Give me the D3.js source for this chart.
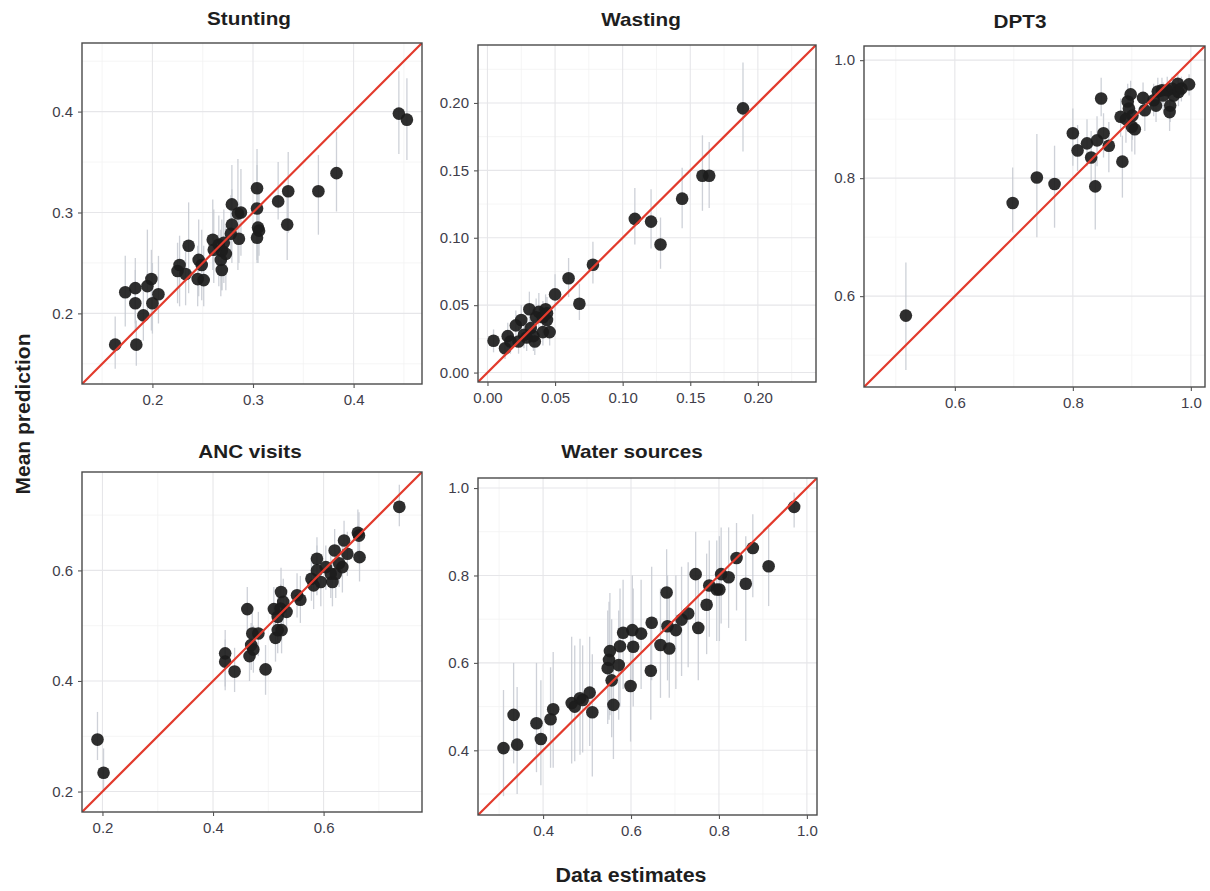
<!DOCTYPE html>
<html>
<head>
<meta charset="utf-8">
<script src="https://cdn.jsdelivr.net/npm/d3@7"></script>
<style>
  body { margin: 0; background: #fff; }
  svg { display: block; }
  text { font-family: "Liberation Sans", Arial, sans-serif; }
</style>
</head>
<body>
<svg id="chart" width="1210" height="891"></svg>
<script>
// ---- DATA: each row = [data estimate, mean prediction, lower, upper] ----
const panelTitles = ["Stunting", "Wasting", "DPT3", "ANC visits", "Water sources"];

const stunting = [
  [0.163,0.169,0.145,0.197],[0.184,0.169,0.148,0.193],[0.173,0.221,0.187,0.257],
  [0.183,0.225,0.190,0.255],[0.183,0.210,0.183,0.243],[0.191,0.198,0.173,0.223],
  [0.195,0.227,0.200,0.283],[0.199,0.234,0.183,0.263],[0.200,0.210,0.180,0.250],
  [0.206,0.219,0.190,0.257],[0.227,0.248,0.207,0.277],[0.225,0.242,0.210,0.270],
  [0.233,0.239,0.208,0.267],[0.236,0.267,0.220,0.310],[0.246,0.253,0.217,0.293],
  [0.249,0.248,0.213,0.283],[0.245,0.234,0.207,0.267],[0.251,0.233,0.207,0.267],
  [0.260,0.273,0.243,0.313],[0.261,0.263,0.230,0.303],[0.266,0.268,0.227,0.297],
  [0.269,0.262,0.223,0.293],[0.271,0.270,0.230,0.303],[0.268,0.253,0.217,0.283],
  [0.269,0.243,0.223,0.277],[0.273,0.259,0.223,0.287],[0.279,0.308,0.277,0.347],
  [0.279,0.288,0.250,0.323],[0.278,0.279,0.257,0.317],[0.285,0.299,0.243,0.353],
  [0.288,0.300,0.257,0.343],[0.286,0.274,0.250,0.310],[0.304,0.324,0.277,0.363],
  [0.304,0.304,0.253,0.347],[0.305,0.285,0.250,0.330],[0.304,0.275,0.250,0.317],
  [0.306,0.282,0.257,0.323],[0.325,0.311,0.293,0.350],[0.335,0.321,0.280,0.360],
  [0.334,0.288,0.253,0.327],[0.365,0.321,0.278,0.357],[0.383,0.339,0.301,0.380],
  [0.445,0.398,0.358,0.440],[0.453,0.392,0.352,0.433]
];

const wasting = [
  [0.0045,0.0236,0.015,0.032],[0.013,0.018,0.010,0.027],[0.015,0.027,0.018,0.037],
  [0.017,0.023,0.014,0.033],[0.021,0.035,0.024,0.046],[0.023,0.023,0.014,0.034],
  [0.025,0.039,0.028,0.050],[0.027,0.028,0.018,0.040],[0.029,0.026,0.016,0.038],
  [0.031,0.047,0.035,0.060],[0.032,0.033,0.022,0.045],[0.034,0.027,0.016,0.039],
  [0.035,0.023,0.013,0.034],[0.036,0.041,0.029,0.055],[0.038,0.045,0.033,0.059],
  [0.041,0.041,0.029,0.053],[0.043,0.047,0.035,0.058],[0.044,0.039,0.028,0.051],
  [0.041,0.030,0.020,0.041],[0.044,0.044,0.032,0.056],[0.046,0.030,0.020,0.041],
  [0.050,0.058,0.046,0.073],[0.060,0.070,0.056,0.085],[0.068,0.051,0.039,0.066],
  [0.078,0.080,0.066,0.097],[0.109,0.114,0.095,0.137],[0.121,0.112,0.092,0.136],
  [0.128,0.095,0.077,0.115],[0.144,0.129,0.107,0.152],[0.159,0.146,0.120,0.176],
  [0.164,0.146,0.122,0.171],[0.189,0.196,0.164,0.230]
];

const dpt3 = [
  [0.517,0.567,0.475,0.657],[0.698,0.758,0.708,0.818],[0.739,0.801,0.700,0.875],
  [0.769,0.790,0.716,0.855],[0.800,0.876,0.821,0.918],[0.808,0.847,0.812,0.890],
  [0.824,0.859,0.820,0.900],[0.831,0.835,0.790,0.880],[0.838,0.786,0.713,0.838],
  [0.841,0.864,0.820,0.905],[0.848,0.935,0.905,0.970],[0.852,0.876,0.835,0.910],
  [0.861,0.855,0.810,0.895],[0.884,0.828,0.767,0.872],[0.881,0.904,0.870,0.935],
  [0.890,0.900,0.860,0.935],[0.893,0.930,0.895,0.960],[0.898,0.942,0.910,0.965],
  [0.895,0.918,0.880,0.950],[0.900,0.887,0.845,0.925],[0.905,0.883,0.840,0.920],
  [0.901,0.906,0.865,0.940],[0.919,0.936,0.905,0.962],[0.922,0.915,0.880,0.945],
  [0.937,0.932,0.905,0.960],[0.941,0.923,0.895,0.950],[0.944,0.947,0.920,0.970],
  [0.951,0.949,0.925,0.970],[0.960,0.949,0.925,0.972],[0.965,0.923,0.895,0.948],
  [0.964,0.912,0.880,0.940],[0.968,0.952,0.930,0.972],[0.971,0.940,0.915,0.962],
  [0.978,0.960,0.940,0.978],[0.979,0.946,0.922,0.968],[0.984,0.952,0.930,0.972],
  [0.997,0.959,0.940,0.976],[0.953,0.940,0.915,0.962]
];

const ancVisits = [
  [0.191,0.294,0.257,0.344],[0.202,0.234,0.200,0.278],[0.422,0.450,0.383,0.492],
  [0.422,0.435,0.390,0.475],[0.439,0.417,0.380,0.460],[0.462,0.530,0.490,0.570],
  [0.466,0.445,0.400,0.485],[0.469,0.465,0.420,0.505],[0.473,0.457,0.415,0.500],
  [0.471,0.486,0.445,0.525],[0.482,0.486,0.445,0.525],[0.495,0.421,0.375,0.465],
  [0.510,0.530,0.490,0.570],[0.513,0.478,0.435,0.520],[0.517,0.516,0.475,0.555],
  [0.522,0.531,0.490,0.575],[0.524,0.492,0.450,0.535],[0.517,0.492,0.450,0.535],
  [0.523,0.561,0.520,0.605],[0.527,0.543,0.500,0.585],[0.533,0.525,0.485,0.565],
  [0.552,0.555,0.515,0.595],[0.558,0.547,0.505,0.590],[0.578,0.585,0.545,0.625],
  [0.582,0.573,0.530,0.615],[0.588,0.621,0.575,0.660],[0.588,0.600,0.555,0.645],
  [0.595,0.579,0.535,0.620],[0.604,0.606,0.565,0.645],[0.613,0.594,0.550,0.635],
  [0.616,0.579,0.535,0.620],[0.620,0.636,0.595,0.675],[0.622,0.594,0.550,0.635],
  [0.628,0.613,0.570,0.655],[0.634,0.606,0.560,0.650],[0.637,0.654,0.610,0.690],
  [0.643,0.630,0.590,0.670],[0.662,0.668,0.625,0.710],[0.664,0.663,0.620,0.705],
  [0.665,0.624,0.580,0.665],[0.737,0.715,0.680,0.755]
];

const waterSources = [
  [0.310,0.405,0.295,0.538],[0.333,0.481,0.370,0.600],[0.341,0.413,0.300,0.545],
  [0.385,0.462,0.350,0.600],[0.395,0.426,0.320,0.560],[0.417,0.471,0.360,0.590],
  [0.423,0.494,0.360,0.625],[0.465,0.508,0.370,0.660],[0.472,0.500,0.375,0.640],
  [0.484,0.519,0.390,0.655],[0.490,0.515,0.395,0.640],[0.506,0.532,0.410,0.660],
  [0.512,0.487,0.340,0.620],[0.547,0.588,0.460,0.720],[0.552,0.627,0.480,0.760],
  [0.550,0.607,0.470,0.740],[0.556,0.560,0.430,0.700],[0.560,0.504,0.380,0.630],
  [0.572,0.595,0.470,0.720],[0.575,0.638,0.500,0.770],[0.582,0.669,0.540,0.790],
  [0.599,0.547,0.420,0.680],[0.605,0.637,0.500,0.770],[0.603,0.675,0.550,0.800],
  [0.623,0.667,0.540,0.790],[0.645,0.582,0.470,0.700],[0.647,0.692,0.560,0.820],
  [0.667,0.641,0.520,0.770],[0.681,0.761,0.630,0.860],[0.683,0.684,0.560,0.800],
  [0.687,0.633,0.520,0.760],[0.702,0.675,0.540,0.800],[0.715,0.699,0.570,0.820],
  [0.730,0.713,0.590,0.830],[0.747,0.803,0.680,0.900],[0.753,0.680,0.560,0.800],
  [0.772,0.733,0.620,0.850],[0.778,0.777,0.660,0.880],[0.795,0.768,0.650,0.880],
  [0.801,0.768,0.650,0.890],[0.805,0.803,0.690,0.910],[0.822,0.796,0.680,0.910],
  [0.840,0.840,0.720,0.920],[0.861,0.781,0.650,0.890],[0.877,0.863,0.750,0.940],
  [0.913,0.821,0.730,0.910],[0.971,0.957,0.910,0.990]
];

// axis limits (same for x and y in each panel) and tick labels
const panelDomains = [[0.130, 0.468], [-0.007, 0.243], [0.446, 1.024], [0.163, 0.778], [0.252, 1.023]];
const panelTicks = [
  [0.2, 0.3, 0.4],
  [0.00, 0.05, 0.10, 0.15, 0.20],
  [0.6, 0.8, 1.0],
  [0.2, 0.4, 0.6],
  [0.4, 0.6, 0.8, 1.0]
];
const tickFormats = [".1f", ".2f", ".1f", ".1f", ".1f"];
const panelData = [stunting, wasting, dpt3, ancVisits, waterSources];
const xAxisTitle = "Data estimates";
const yAxisTitle = "Mean prediction";

// ---- LAYOUT ----
const layout = [
  { left: 82,  top: 43,  w: 340, h: 341, tx: 249, ty: 25 },
  { left: 478, top: 45,  w: 338, h: 337, tx: 641, ty: 26 },
  { left: 864, top: 46,  w: 341, h: 341, tx: 1020, ty: 28 },
  { left: 82,  top: 472, w: 340, h: 340, tx: 250, ty: 458 },
  { left: 478, top: 478, w: 339, h: 337, tx: 632, ty: 458 }
];

const svg = d3.select("#chart");

panelData.forEach((data, i) => {
  const L = layout[i];
  const dom = panelDomains[i];
  const x = d3.scaleLinear().domain(dom).range([0, L.w]);
  const y = d3.scaleLinear().domain(dom).range([L.h, 0]);
  const g = svg.append("g").attr("transform", `translate(${L.left},${L.top})`);
  const ticks = panelTicks[i];
  const step = ticks[1] - ticks[0];
  const minor = [];
  for (let v = ticks[0] - step / 2; v <= dom[1]; v += step) if (v >= dom[0]) minor.push(v);

  const cid = "clip" + i;
  g.append("clipPath").attr("id", cid).append("rect").attr("width", L.w).attr("height", L.h);

  const grid = g.append("g");
  grid.selectAll(".mnx").data(minor).join("line")
    .attr("x1", d => x(d)).attr("x2", d => x(d)).attr("y1", 0).attr("y2", L.h)
    .attr("stroke", "#f2f2f2").attr("stroke-width", 0.8);
  grid.selectAll(".mny").data(minor).join("line")
    .attr("y1", d => y(d)).attr("y2", d => y(d)).attr("x1", 0).attr("x2", L.w)
    .attr("stroke", "#f2f2f2").attr("stroke-width", 0.8);
  grid.selectAll(".mjx").data(ticks).join("line")
    .attr("x1", d => x(d)).attr("x2", d => x(d)).attr("y1", 0).attr("y2", L.h)
    .attr("stroke", "#e6e6e9").attr("stroke-width", 1.1);
  grid.selectAll(".mjy").data(ticks).join("line")
    .attr("y1", d => y(d)).attr("y2", d => y(d)).attr("x1", 0).attr("x2", L.w)
    .attr("stroke", "#e6e6e9").attr("stroke-width", 1.1);

  const plot = g.append("g").attr("clip-path", `url(#${cid})`);
  plot.selectAll(".err").data(data).join("line")
    .attr("x1", d => x(d[0])).attr("x2", d => x(d[0]))
    .attr("y1", d => y(d[2])).attr("y2", d => y(d[3]))
    .attr("stroke", "#c6cad2").attr("stroke-width", 1.3).attr("opacity", 0.85);
  plot.selectAll(".pt").data(data).join("circle")
    .attr("cx", d => x(d[0])).attr("cy", d => y(d[1])).attr("r", 6.3)
    .attr("fill", "#1c1c1c").attr("fill-opacity", 0.92);
  plot.append("line")
    .attr("x1", x(dom[0])).attr("y1", y(dom[0]))
    .attr("x2", x(dom[1])).attr("y2", y(dom[1]))
    .attr("stroke", "#e23a2c").attr("stroke-width", 2.2);

  g.append("rect").attr("width", L.w).attr("height", L.h)
    .attr("fill", "none").attr("stroke", "#4a4a4a").attr("stroke-width", 1.4);

  const fmt = d3.format(tickFormats[i]);
  const xAxis = d3.axisBottom(x).tickValues(ticks).tickFormat(fmt).tickSize(4).tickPadding(6);
  const yAxis = d3.axisLeft(y).tickValues(ticks).tickFormat(fmt).tickSize(4).tickPadding(5);
  const xa = g.append("g").attr("transform", `translate(0,${L.h})`).call(xAxis);
  const ya = g.append("g").call(yAxis);
  [xa, ya].forEach(a => {
    a.select(".domain").remove();
    a.selectAll(".tick line").attr("stroke", "#555").attr("stroke-width", 1.1);
    a.selectAll(".tick text").attr("fill", "#403d4a")
      .style("font-size", "15px").style("font-family", "'Liberation Sans', Arial, sans-serif");
  });

  svg.append("text")
    .attr("transform", `translate(${L.tx},${L.ty}) scale(1.15,1)`)
    .attr("text-anchor", "middle")
    .style("font-size", "18px").style("font-weight", "bold").attr("fill", "#1e1e1e")
    .text(panelTitles[i]);
});

svg.append("text")
  .attr("transform", "translate(30,414) rotate(-90)")
  .attr("text-anchor", "middle")
  .style("font-size", "21px").style("font-weight", "bold").attr("fill", "#1e1e1e")
  .text(yAxisTitle);

svg.append("text")
  .attr("transform", "translate(631,882) scale(1.07,1)")
  .attr("text-anchor", "middle")
  .style("font-size", "20px").style("font-weight", "bold").attr("fill", "#1e1e1e")
  .text(xAxisTitle);
</script>
</body>
</html>
